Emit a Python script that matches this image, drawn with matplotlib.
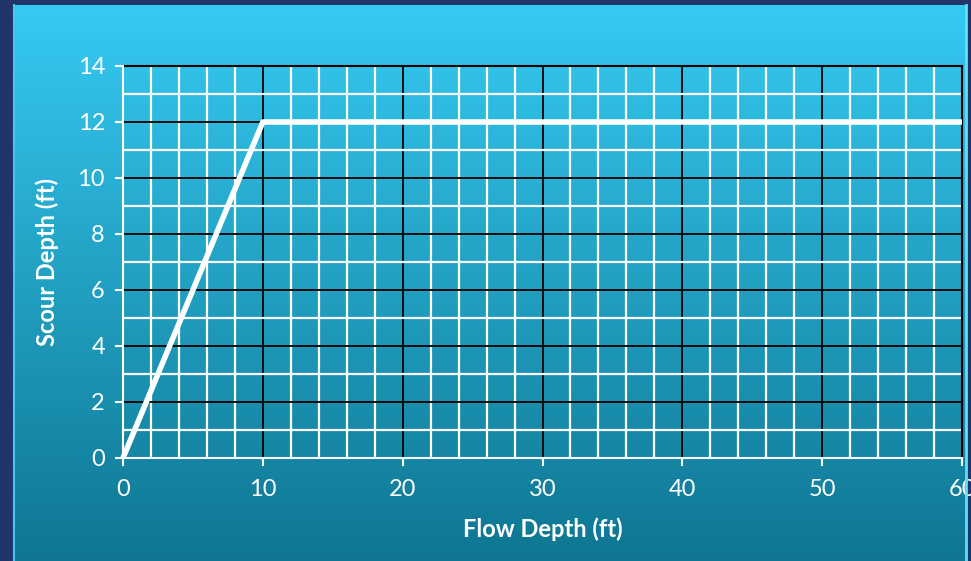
import numpy as np
import matplotlib.pyplot as plt

# datos de la curva
flow_depth = [0, 10, 60]
scour_depth = [0, 12, 12]

x_major = [0, 10, 20, 30, 40, 50, 60]
y_major = [0, 2, 4, 6, 8, 10, 12, 14]

plt.rcParams['font.family'] = ['Lato', 'DejaVu Sans']

fig = plt.figure(figsize=(9.71, 5.61), dpi=100)
fig.patch.set_facecolor('#22356b')

# panel con degradado (fondo de la diapositiva)
bg = fig.add_axes([13 / 971, 0, 1 - 19 / 971, 1 - 5 / 561], zorder=0)
grad = np.linspace(0, 1, 256).reshape(-1, 1)
top = np.array([54, 202, 242]) / 255
bot = np.array([14, 118, 146]) / 255
img = top + (bot - top) * grad[:, :, None]
bg.imshow(img, aspect='auto', extent=[0, 1, 0, 1])
bg.set_axis_off()
# borde claro del panel (bisel)
fig.add_artist(plt.Line2D([14 / 971, 14 / 971], [0, 1 - 5 / 561], color='#45c8ea', lw=1.5))
fig.add_artist(plt.Line2D([1 - 5 / 971, 1 - 5 / 971], [0, 1 - 5 / 561], color='#5fe0f8', lw=2, zorder=10))

ax = fig.add_axes([123 / 971, 1 - 458 / 561, (962 - 123) / 971, (458 - 66) / 561], zorder=1)
ax.patch.set_alpha(0)

ax.plot(flow_depth, scour_depth, color='white', lw=4, solid_capstyle='butt', zorder=5, clip_on=False)

ax.set_xlim(0, 60)
ax.set_ylim(0, 14)
ax.set_xticks(x_major)
ax.set_yticks(y_major)
ax.set_xticks(np.arange(0, 61, 2), minor=True)
ax.set_yticks(np.arange(0, 15, 1), minor=True)

ax.grid(which='minor', color='white', lw=1.6, zorder=1)
ax.grid(which='major', color='black', lw=1.3, zorder=2)
ax.set_axisbelow(True)

for s in ['top', 'right']:
    ax.spines[s].set_color('black')
    ax.spines[s].set_linewidth(1.5)
for s in ['left', 'bottom']:
    ax.spines[s].set_color('white')
    ax.spines[s].set_linewidth(1.5)
    ax.spines[s].set_zorder(4)

ax.tick_params(which='major', direction='out', length=6, width=1.5, color='white',
               labelcolor='white', labelsize=17, pad=9)
ax.tick_params(axis='y', pad=7)
ax.tick_params(which='minor', length=0)

ax.set_xlabel('Flow Depth (ft)', color='white', fontsize=17, fontweight='bold', labelpad=13)
ax.set_ylabel('Scour Depth (ft)', color='white', fontsize=17, fontweight='bold', labelpad=13)

fig.savefig('out.png', dpi=100, facecolor=fig.get_facecolor())
